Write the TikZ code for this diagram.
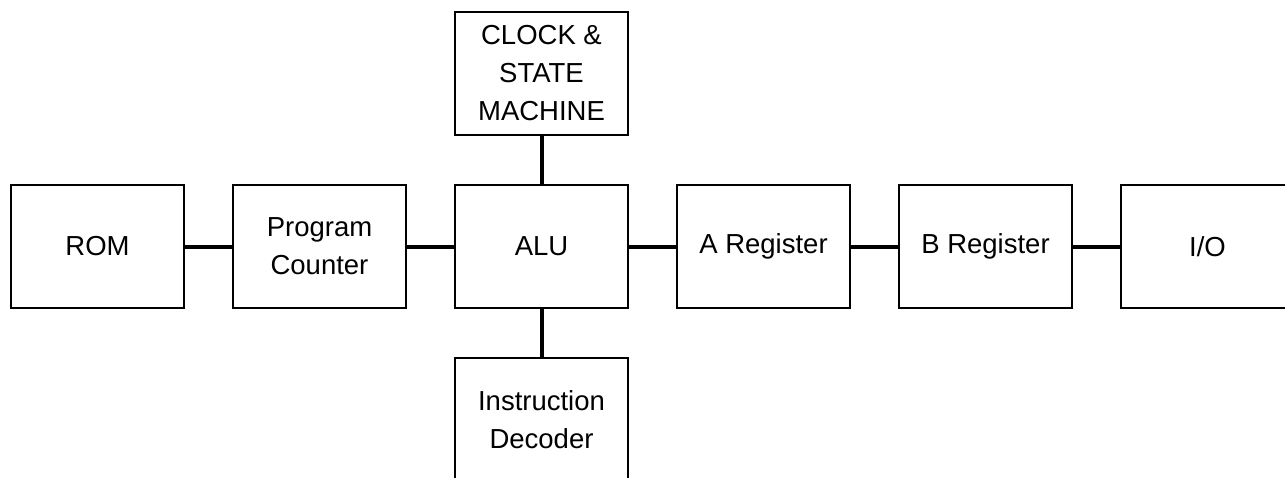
\documentclass[tikz,border=0pt]{standalone}
\usepackage{fontspec}
\setmainfont{Liberation Sans}
\usetikzlibrary{positioning}

\tikzset{
  block/.style={draw,line width=1.3pt,outer sep=0pt,inner sep=0pt,
    minimum width=173pt,minimum height=123pt,align=center,
    font=\fontsize{27.5}{38}\selectfont},
  bus/.style={line width=4pt}
}

\begin{document}
\begin{tikzpicture}[x=1pt,y=1pt,node distance=49pt]
  \useasboundingbox (0,0) rectangle (1285,-477);

  % main data path
  \node[block] (rom) at (97.5,-246.5) {ROM};
  \node[block,right=of rom] (pc) {Program\\Counter};
  \node[block,right=of pc] (alu) {ALU};
  \node[block,right=of alu] (areg) {A Register};
  \node[block,right=of areg] (breg) {B Register};
  \node[block,right=of breg] (io) {I/O};

  % control
  \node[block,above=50pt of alu] (clk) {CLOCK \&\\STATE\\MACHINE};
  \node[block,below=50pt of alu] (dec) {Instruction\\Decoder};

  \draw[bus] (rom) -- (pc);
  \draw[bus] (pc) -- (alu);
  \draw[bus] (alu) -- (areg);
  \draw[bus] (areg) -- (breg);
  \draw[bus] (breg) -- (io);
  \draw[bus] (clk) -- (alu);
  \draw[bus] (alu) -- (dec);
\end{tikzpicture}
\end{document}
